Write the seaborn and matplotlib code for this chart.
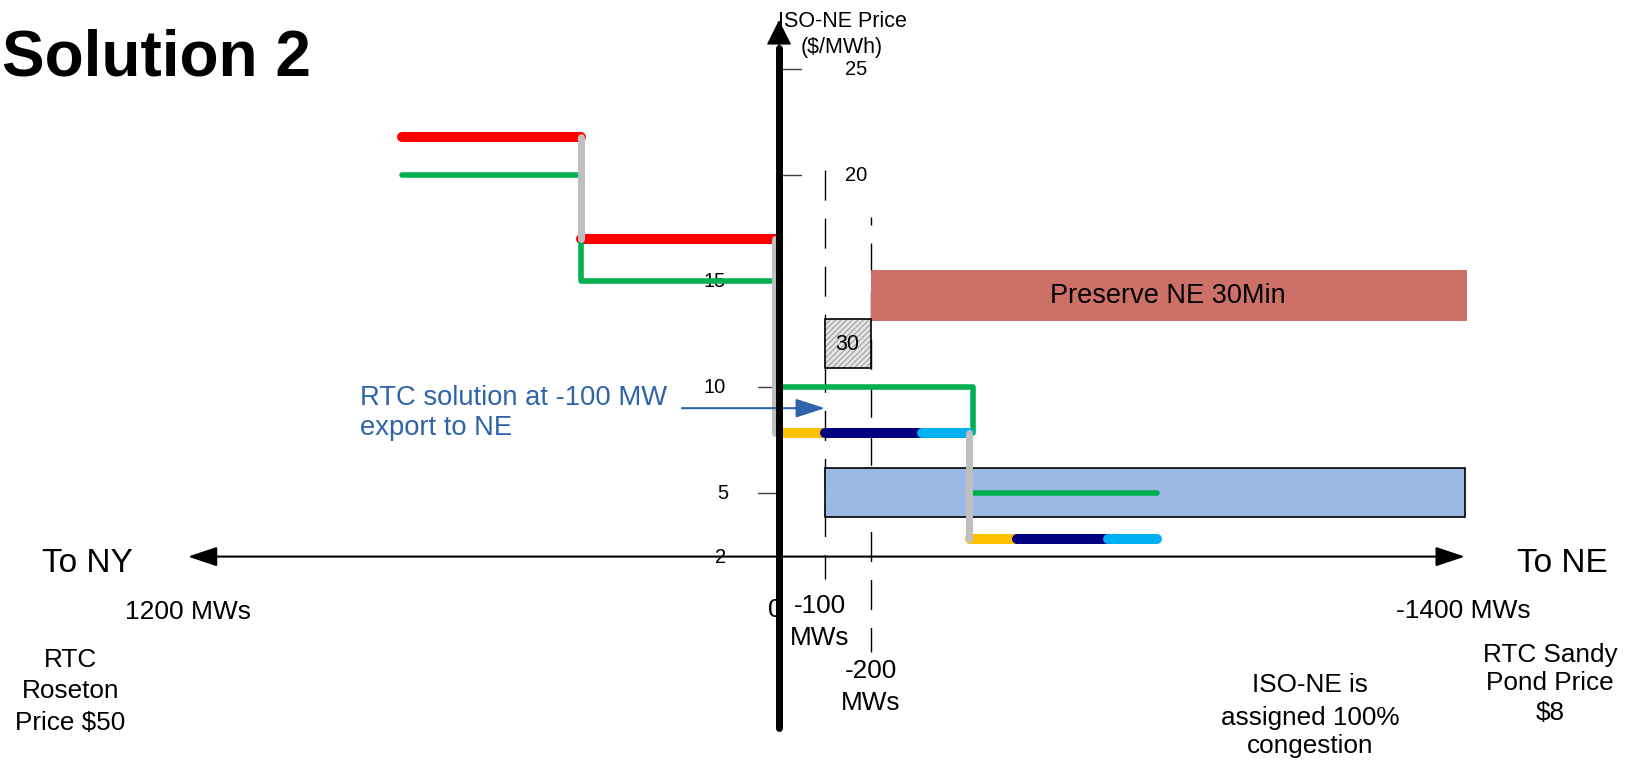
import matplotlib
matplotlib.use("Agg")
import matplotlib.pyplot as plt
import seaborn as sns

# ---------------------------------------------------------------
# Data: interface flow in MW (positive = toward NY, negative = toward NE)
# and ISO-NE price in $/MWh
# ---------------------------------------------------------------
red_segments = [([820, 430], [21.8, 21.8]),
                ([430, 5], [17.0, 17.0])]
green_segments = [([820, 430, 430, 2], [20.0, 20.0, 15.0, 15.0]),
                  ([2, -422, -422], [10.0, 10.0, 7.83]),
                  ([-420, -822], [5.0, 5.0])]
gray_segments = [([430, 430], [21.8, 17.0]),
                 ([8, 8], [17.0, 7.83]),
                 ([-414, -414], [7.83, 2.83])]

upper_flow_price = 7.83
lower_flow_price = 2.83
orange_mw = [(0, -100), (-415, -518)]
navy_mw = [(-100, -310), (-518, -715)]
cyan_mw = [(-310, -414), (-715, -822)]

# boxes: (mw from, mw to, price low, price high)
preserve_box = (-200, -1495, 13.1, 15.5)
reserve30_box = (-100, -200, 10.9, 13.2)
band_box = (-100, -1491, 3.87, 6.18)

# dashed flow markers: (mw, price bottom, price top)
flow_markers = [(-100, 0.94, 20.5), (-200, -2.5, 18.0)]

price_ticks = [25, 20, 15, 10, 5, 2]
price_tick_labels = ["25", "20", "15", "10", "5", "2"]
price_tick_label_x = [-167, -167, 139, 139, 122, 128]

rtc_solution_mw = -100
rtc_solution_price = 9.0

# ---------------------------------------------------------------
sns.set_theme(style="white")
plt.rcParams["font.family"] = ["Liberation Sans", "DejaVu Sans"]
plt.rcParams["text.color"] = "black"
plt.rcParams["hatch.linewidth"] = 0.6

fig = plt.figure(figsize=(16.39, 7.61), dpi=100)
ax = fig.add_axes([0, 0, 1, 1])
ax.set_facecolor("white")

RED = "#FF0000"
GREEN = "#00B050"
GRAY = "#BFBFBF"
ORANGE = "#FFC000"
NAVY = "#000080"
CYAN = "#00B0F0"
BLUE_TXT = "#2E64AA"


def seg(xs, ys, color, lw, z):
    sns.lineplot(x=xs, y=ys, ax=ax, color=color, linewidth=lw,
                 estimator=None, sort=False, solid_capstyle="round",
                 solid_joinstyle="round", zorder=z)


# dashed flow markers
for mw, lo, hi in flow_markers:
    sns.lineplot(x=[mw, mw], y=[lo, hi], ax=ax, color="black", linewidth=1.0,
                 estimator=None, sort=False, linestyle=(4, (21.6, 13)), zorder=1)

# boxes
x0, x1, y0, y1 = preserve_box
ax.barh(y=(y0 + y1) / 2, width=x1 - x0, left=x0, height=y1 - y0,
        color="#CD7068", linewidth=0, zorder=2)
x0, x1, y0, y1 = band_box
ax.barh(y=(y0 + y1) / 2, width=x1 - x0, left=x0, height=y1 - y0,
        color="#9CB9E3", edgecolor="black", linewidth=1.2, zorder=2)
x0, x1, y0, y1 = reserve30_box
ax.barh(y=(y0 + y1) / 2, width=x1 - x0, left=x0, height=y1 - y0,
        color="#E4E4E4", edgecolor="#8C8C8C", hatch="//////", linewidth=0, zorder=2)
ax.barh(y=(y0 + y1) / 2, width=x1 - x0, left=x0, height=y1 - y0,
        fill=False, edgecolor="black", linewidth=1.2, zorder=2.1)

# tick marks on the price axis
for p in price_ticks:
    if p == 2:
        continue
    if p >= 20:
        ax.plot([-2, -48], [p, p], color="#404040", lw=1.0, zorder=2)
    else:
        ax.plot([46, 2], [p, p], color="#404040", lw=1.0, zorder=2)

# offer / flow steps
for xs, ys in red_segments:
    seg(xs, ys, RED, 7.2, 3)
for xs, ys in green_segments:
    seg(xs, ys, GREEN, 4.0, 3.2)
for (a, b) in orange_mw:
    seg([a, b], [upper_flow_price if a > -200 else lower_flow_price] * 2, ORANGE, 7.2, 3.3)
for (a, b) in navy_mw:
    seg([a, b], [upper_flow_price if a > -200 else lower_flow_price] * 2, NAVY, 7.2, 3.4)
for (a, b) in cyan_mw:
    seg([a, b], [upper_flow_price if a > -400 else lower_flow_price] * 2, CYAN, 7.2, 3.5)
for xs, ys in gray_segments:
    seg(xs, ys, GRAY, 5.0, 3.6)

# horizontal flow axis
ax.annotate("", xy=(-1491, 2.0), xytext=(1285, 2.0),
            arrowprops=dict(arrowstyle="<|-|>,head_length=1.8,head_width=0.6",
                            mutation_scale=10, lw=1.5, color="black",
                            shrinkA=0, shrinkB=0), zorder=4)

# vertical price axis
ax.plot([0, 0], [-6.1, 26.0], color="black", lw=5, solid_capstyle="round", zorder=5)
ax.annotate("", xy=(0, 27.3), xytext=(0, 25.5),
            arrowprops=dict(arrowstyle="-|>,head_length=1.6,head_width=0.8",
                            mutation_scale=10, lw=1, color="black",
                            shrinkA=0, shrinkB=0), zorder=5)

# RTC solution pointer
ax.annotate("", xy=(rtc_solution_mw, rtc_solution_price), xytext=(211, rtc_solution_price),
            arrowprops=dict(arrowstyle="-|>,head_length=1.8,head_width=0.58",
                            mutation_scale=10, lw=1.5, color=BLUE_TXT,
                            shrinkA=0, shrinkB=0), zorder=4)

# ---------------------------------------------------------------
# Text
# ---------------------------------------------------------------
ax.text(1689, 24.67, "Solution 2", fontsize=46, fontweight="bold", color="black",
        ha="left", va="baseline", zorder=6)

ax.text(-137, 26.98, "ISO-NE Price", fontsize=15.5, ha="center", va="baseline", zorder=6)
ax.text(-137, 25.75, "($/MWh)", fontsize=15.5, ha="center", va="baseline", zorder=6)

for p, lab, lx in zip(price_ticks, price_tick_labels, price_tick_label_x):
    ax.text(lx, p - 0.3, lab, fontsize=14.5, ha="center", va="baseline", zorder=2.5)

ax.text(9, -0.85, "0", fontsize=18.8, ha="center", va="baseline", zorder=4.5)
ax.text(-89, -0.66, "-100", fontsize=18.8, ha="center", va="baseline", zorder=6)
ax.text(-89, -2.17, "MWs", fontsize=18.8, ha="center", va="baseline", zorder=6)
ax.text(-200, -3.73, "-200", fontsize=18.8, ha="center", va="baseline", zorder=6)
ax.text(-200, -5.24, "MWs", fontsize=18.8, ha="center", va="baseline", zorder=6)

ax.text(1504, 1.27, "To NY", fontsize=24, ha="center", va="baseline", zorder=6)
ax.text(-1702, 1.27, "To NE", fontsize=24, ha="center", va="baseline", zorder=6)
ax.text(1285, -0.94, "1200 MWs", fontsize=19, ha="center", va="baseline", zorder=6)
ax.text(-1487, -0.90, "-1400 MWs", fontsize=19, ha="center", va="baseline", zorder=6)

for txt, yb in zip(["RTC", "Roseton", "Price $50"], [-3.21, -4.67, -6.18]):
    ax.text(1541, yb, txt, fontsize=18.8, ha="center", va="baseline", zorder=6)
for txt, yb in zip(["RTC Sandy", "Pond Price", "$8"], [-2.97, -4.29, -5.71]):
    ax.text(-1676, yb, txt, fontsize=18.8, ha="center", va="baseline", zorder=6)
for txt, yb in zip(["ISO-NE is", "assigned 100%", "congestion"], [-4.39, -5.94, -7.26]):
    ax.text(-1154, yb, txt, fontsize=18.8, ha="center", va="baseline", zorder=6)

ax.text(911, 9.15, "RTC solution at -100 MW", fontsize=19.7, color=BLUE_TXT,
        ha="left", va="baseline", zorder=6)
ax.text(911, 7.74, "export to NE", fontsize=19.7, color=BLUE_TXT,
        ha="left", va="baseline", zorder=6)

ax.text(-846, 13.96, "Preserve NE 30Min", fontsize=19.5, ha="center", va="baseline", zorder=6)
ax.text(-148, 11.75, "30", fontsize=15.5, ha="center", va="baseline", zorder=6)

ax.set_xlim(1693.5, -1869.6)
ax.set_ylim(-7.64, 28.25)
ax.axis("off")

fig.savefig("out.png", dpi=100, facecolor="white")
